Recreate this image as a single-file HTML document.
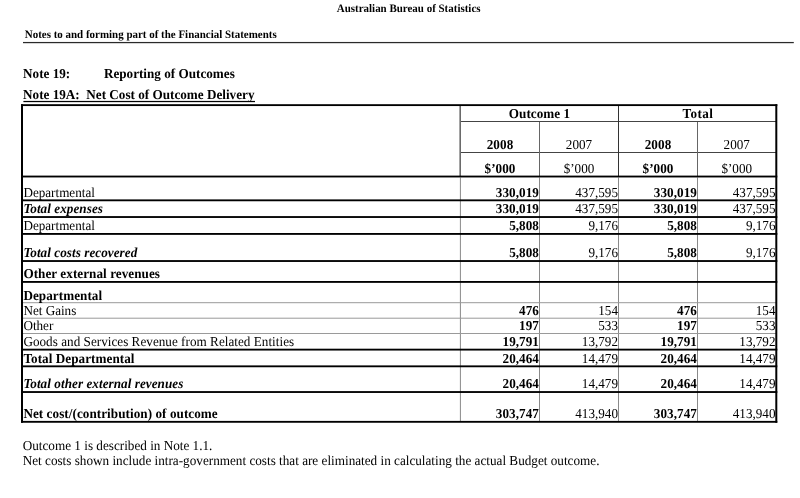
<!DOCTYPE html>
<html><head><meta charset="utf-8">
<style>
html,body{margin:0;padding:0;background:#fff;}
body{width:800px;height:498px;position:relative;overflow:hidden;font-family:"Liberation Serif",serif;color:#000;}
#w{position:absolute;left:0;top:0;width:800px;height:498px;will-change:transform;}
svg{position:absolute;left:0;top:0;}
.t{text-rendering:geometricPrecision;position:absolute;white-space:nowrap;line-height:1;font-size:13.15px;transform:scaleY(1.04);transform-origin:0 83.75%;}
.b{font-weight:bold;letter-spacing:0.06px;}
.i{font-style:italic;font-weight:bold;letter-spacing:0.06px;}
.u{}
.r{text-align:right;}
.c{text-align:center;}
</style></head><body><div id="w">
<svg width="800" height="498" viewBox="0 0 800 498">
<rect x="23" y="41.95" width="770.8" height="1.25" fill="#2a2a2a"/>
<rect x="23.4" y="100.9" width="231.6" height="1.25" fill="#000"/>
<rect x="459.9" y="177.5" width="1" height="243.5" fill="#8a8a8a"/>
<rect x="539" y="177.5" width="1" height="243.5" fill="#8a8a8a"/>
<rect x="618" y="177.5" width="1" height="243.5" fill="#8a8a8a"/>
<rect x="697" y="177.5" width="1" height="243.5" fill="#8a8a8a"/>
<rect x="23" y="302.2" width="753" height="1" fill="#9a9a9a"/>
<rect x="23" y="317.7" width="753" height="1" fill="#9a9a9a"/>
<rect x="23" y="333.0" width="753" height="1" fill="#9a9a9a"/>
<rect x="460" y="121" width="316" height="1" fill="#444"/>
<rect x="460" y="152" width="316" height="1" fill="#444"/>
<rect x="459.4" y="105" width="1.6" height="71" fill="#6a6a6a"/>
<rect x="539" y="122" width="1" height="54" fill="#666"/>
<rect x="697" y="122" width="1" height="54" fill="#666"/>
<rect x="618" y="105" width="1" height="71" fill="#333"/>
<rect x="21.0" y="104.2" width="756.3" height="1.85" fill="#000"/>
<rect x="21.0" y="175.6" width="756.3" height="1.85" fill="#000"/>
<rect x="21.0" y="199.4" width="756.3" height="1.85" fill="#000"/>
<rect x="21.0" y="216.1" width="756.3" height="1.85" fill="#000"/>
<rect x="21.0" y="233.0" width="756.3" height="1.85" fill="#000"/>
<rect x="21.0" y="260.1" width="756.3" height="1.85" fill="#000"/>
<rect x="21.0" y="281.0" width="756.3" height="1.85" fill="#000"/>
<rect x="21.0" y="348.7" width="756.3" height="1.85" fill="#000"/>
<rect x="21.0" y="365.4" width="756.3" height="1.85" fill="#000"/>
<rect x="21.0" y="391.1" width="756.3" height="1.85" fill="#000"/>
<rect x="21.0" y="420.9" width="756.3" height="1.85" fill="#000"/>
<rect x="21.0" y="104.2" width="2" height="318.55" fill="#000"/>
<rect x="775.3" y="104.2" width="2" height="318.55" fill="#000"/>
</svg>
<div class="t b" style="left:336.8px;top:3.82px;font-size:10.96px;letter-spacing:0;">Australian Bureau of Statistics</div>
<div class="t b" style="left:24.8px;top:29.62px;font-size:10.96px;letter-spacing:0;">Notes to and forming part of the Financial Statements</div>
<div class="t b" style="left:23.1px;top:66.69px;letter-spacing:0;">Note 19:</div>
<div class="t b" style="left:103.9px;top:66.69px;letter-spacing:0.01px;">Reporting of Outcomes</div>
<div class="t b u" style="left:23.1px;top:88.19px;letter-spacing:0.01px;">Note 19A:&nbsp; Net Cost of Outcome Delivery</div>
<div class="t " style="left:23.4px;top:185.59px;">Departmental</div>
<div class="t b r" style="left:461px;top:185.59px;width:78px;">330,019</div>
<div class="t r" style="left:540px;top:185.59px;width:78px;">437,595</div>
<div class="t b r" style="left:619px;top:185.59px;width:78px;">330,019</div>
<div class="t r" style="left:698px;top:185.59px;width:77.5px;">437,595</div>
<div class="t i" style="left:23.4px;top:202.39px;">Total expenses</div>
<div class="t b r" style="left:461px;top:202.39px;width:78px;">330,019</div>
<div class="t r" style="left:540px;top:202.39px;width:78px;">437,595</div>
<div class="t b r" style="left:619px;top:202.39px;width:78px;">330,019</div>
<div class="t r" style="left:698px;top:202.39px;width:77.5px;">437,595</div>
<div class="t " style="left:23.4px;top:219.19px;">Departmental</div>
<div class="t b r" style="left:461px;top:219.19px;width:78px;">5,808</div>
<div class="t r" style="left:540px;top:219.19px;width:78px;">9,176</div>
<div class="t b r" style="left:619px;top:219.19px;width:78px;">5,808</div>
<div class="t r" style="left:698px;top:219.19px;width:77.5px;">9,176</div>
<div class="t i" style="left:23.4px;top:245.99px;">Total costs recovered</div>
<div class="t b r" style="left:461px;top:245.99px;width:78px;">5,808</div>
<div class="t r" style="left:540px;top:245.99px;width:78px;">9,176</div>
<div class="t b r" style="left:619px;top:245.99px;width:78px;">5,808</div>
<div class="t r" style="left:698px;top:245.99px;width:77.5px;">9,176</div>
<div class="t b" style="left:23.4px;top:267.39px;">Other external revenues</div>
<div class="t b" style="left:23.4px;top:288.59px;">Departmental</div>
<div class="t " style="left:23.4px;top:303.79px;">Net Gains</div>
<div class="t b r" style="left:461px;top:303.79px;width:78px;">476</div>
<div class="t r" style="left:540px;top:303.79px;width:78px;">154</div>
<div class="t b r" style="left:619px;top:303.79px;width:78px;">476</div>
<div class="t r" style="left:698px;top:303.79px;width:77.5px;">154</div>
<div class="t " style="left:23.4px;top:319.19px;">Other</div>
<div class="t b r" style="left:461px;top:319.19px;width:78px;">197</div>
<div class="t r" style="left:540px;top:319.19px;width:78px;">533</div>
<div class="t b r" style="left:619px;top:319.19px;width:78px;">197</div>
<div class="t r" style="left:698px;top:319.19px;width:77.5px;">533</div>
<div class="t " style="left:23.4px;top:334.69px;letter-spacing:0.03px;">Goods and Services Revenue from Related Entities</div>
<div class="t b r" style="left:461px;top:334.69px;width:78px;">19,791</div>
<div class="t r" style="left:540px;top:334.69px;width:78px;">13,792</div>
<div class="t b r" style="left:619px;top:334.69px;width:78px;">19,791</div>
<div class="t r" style="left:698px;top:334.69px;width:77.5px;">13,792</div>
<div class="t b" style="left:23.4px;top:351.79px;">Total Departmental</div>
<div class="t b r" style="left:461px;top:351.79px;width:78px;">20,464</div>
<div class="t r" style="left:540px;top:351.79px;width:78px;">14,479</div>
<div class="t b r" style="left:619px;top:351.79px;width:78px;">20,464</div>
<div class="t r" style="left:698px;top:351.79px;width:77.5px;">14,479</div>
<div class="t i" style="left:23.4px;top:376.89px;">Total other external revenues</div>
<div class="t b r" style="left:461px;top:376.89px;width:78px;">20,464</div>
<div class="t r" style="left:540px;top:376.89px;width:78px;">14,479</div>
<div class="t b r" style="left:619px;top:376.89px;width:78px;">20,464</div>
<div class="t r" style="left:698px;top:376.89px;width:77.5px;">14,479</div>
<div class="t b" style="left:23.4px;top:406.69px;">Net cost/(contribution) of outcome</div>
<div class="t b r" style="left:461px;top:406.69px;width:78px;">303,747</div>
<div class="t r" style="left:540px;top:406.69px;width:78px;">413,940</div>
<div class="t b r" style="left:619px;top:406.69px;width:78px;">303,747</div>
<div class="t r" style="left:698px;top:406.69px;width:77.5px;">413,940</div>
<div class="t b c" style="left:461px;top:107.39px;width:157px;">Outcome 1</div>
<div class="t b c" style="left:619.4px;top:107.39px;width:157px;letter-spacing:0.4px;">Total</div>
<div class="t b c" style="left:461px;top:137.99px;width:78px;">2008</div>
<div class="t b c" style="left:461px;top:161.59px;width:78px;">$’000</div>
<div class="t c" style="left:540px;top:137.99px;width:78px;">2007</div>
<div class="t c" style="left:540px;top:161.59px;width:78px;">$’000</div>
<div class="t b c" style="left:619px;top:137.99px;width:78px;">2008</div>
<div class="t b c" style="left:619px;top:161.59px;width:78px;">$’000</div>
<div class="t c" style="left:698px;top:137.99px;width:77.5px;">2007</div>
<div class="t c" style="left:698px;top:161.59px;width:77.5px;">$’000</div>
<div class="t " style="left:22.7px;top:438.75px;font-size:13.2px;">Outcome 1 is described in Note 1.1.</div>
<div class="t " style="left:22.7px;top:454.34px;font-size:13.2px;">Net costs shown include intra-government costs that are eliminated in calculating the actual Budget outcome.</div>
</div></body></html>
